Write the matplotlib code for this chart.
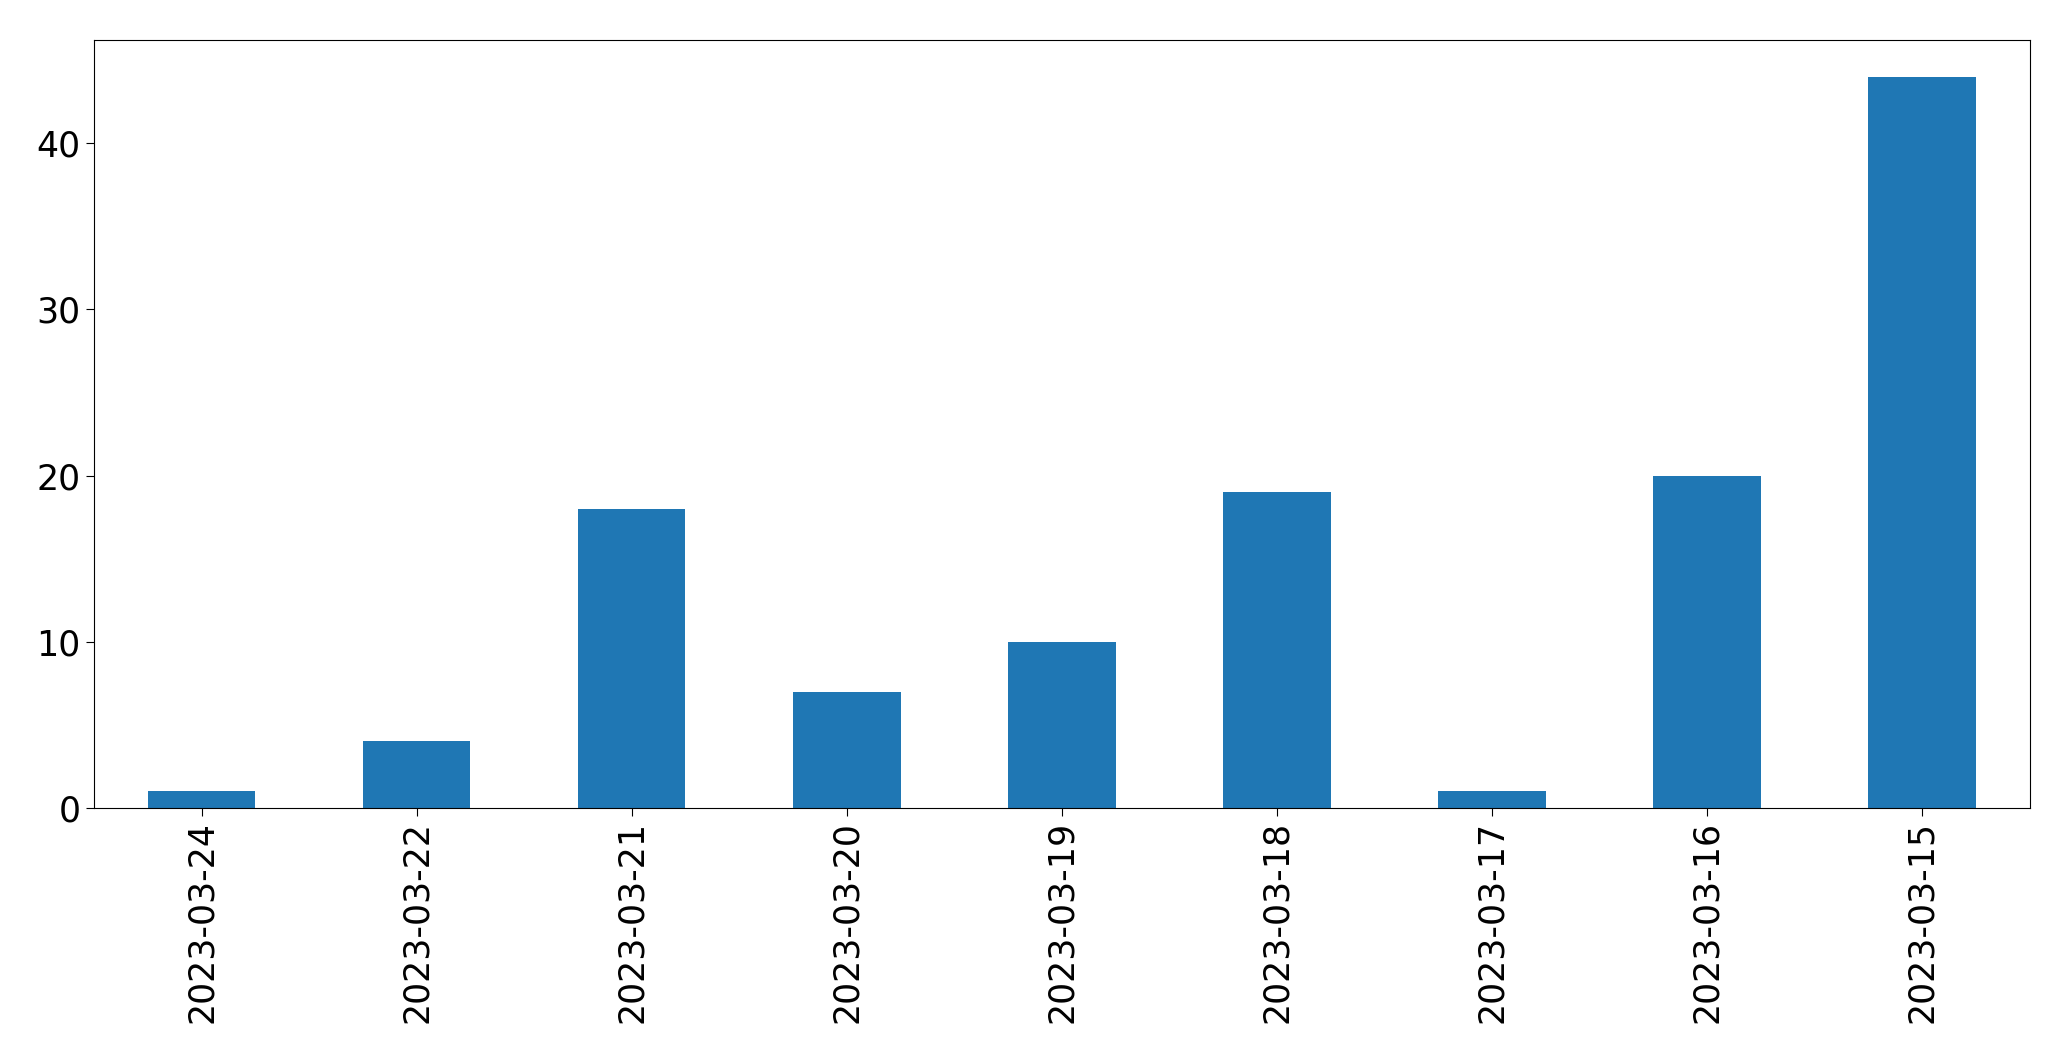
import matplotlib
matplotlib.use('Agg')
import matplotlib.pyplot as plt

dates = ["2023-03-24", "2023-03-22", "2023-03-21", "2023-03-20", "2023-03-19",
         "2023-03-18", "2023-03-17", "2023-03-16", "2023-03-15"]
counts = [1, 4, 18, 7, 10, 19, 1, 20, 44]

fig = plt.figure(figsize=(20.71, 10.61), dpi=100)
ax = fig.add_axes([0.0454, 0.2385, 0.9346, 0.7235])

x = range(len(dates))
ax.bar(x, counts, width=0.5, color='#1f77b4')
ax.set_xlim(-0.5, len(dates) - 0.5)
ax.set_xticks(list(x))
ax.set_xticklabels(dates, rotation=90)
ax.tick_params(labelsize=25, length=6)

fig.savefig("out.png", dpi=100)
